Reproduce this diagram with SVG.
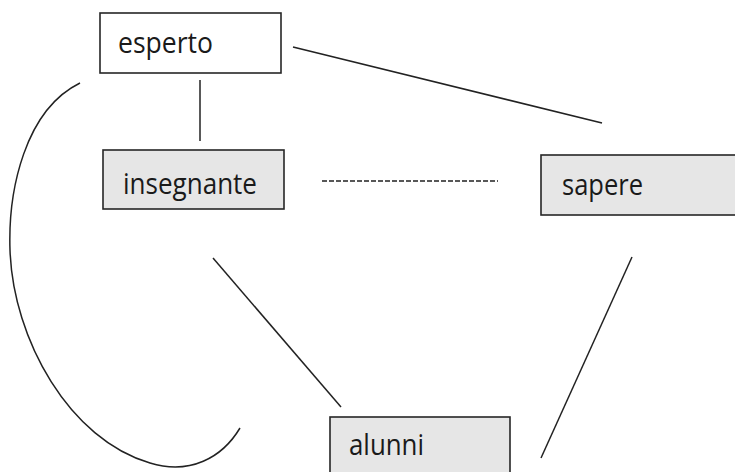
<svg xmlns="http://www.w3.org/2000/svg" width="735" height="472" viewBox="0 0 735 472">
<style>
.box{stroke:#262626;stroke-width:1.6}
.w{fill:#ffffff}
.g{fill:#e6e6e6}
.t{font-family:"Open Sans","Noto Sans","Liberation Sans",sans-serif;font-size:30px;fill:#1a1a1a}
.c{fill:none;stroke:#222;stroke-width:1.5}
</style>
<rect width="735" height="472" fill="#ffffff"/>
<g id="connectors">
<line class="c" x1="293" y1="47" x2="602" y2="123"/>
<line class="c" x1="200" y1="80" x2="200" y2="141"/>
<line class="c" x1="322" y1="181" x2="498" y2="181" stroke-dasharray="5,2"/>
<line class="c" x1="213" y1="258" x2="341" y2="407"/>
<line class="c" x1="632" y1="257" x2="541" y2="458"/>
<path class="c" d="M80,83 C25,110 8,190 10,250 C13,340 70,440 150,463 C190,475 222,458 240,428"/>
</g>
<g id="esperto">
<rect class="box w" x="100" y="13" width="181" height="60"/>
<text class="t" x="118" y="53" textLength="95" lengthAdjust="spacingAndGlyphs">esperto</text>
</g>
<g id="insegnante">
<rect class="box g" x="103" y="150" width="181" height="59"/>
<text class="t" x="123" y="194" textLength="134" lengthAdjust="spacingAndGlyphs">insegnante</text>
</g>
<g id="sapere">
<rect class="box g" x="541" y="155" width="200" height="60"/>
<text class="t" x="562" y="195" textLength="81" lengthAdjust="spacingAndGlyphs">sapere</text>
</g>
<g id="alunni">
<rect class="box g" x="330" y="417" width="180" height="70"/>
<text class="t" x="349" y="455" textLength="75" lengthAdjust="spacingAndGlyphs">alunni</text>
</g>
</svg>
